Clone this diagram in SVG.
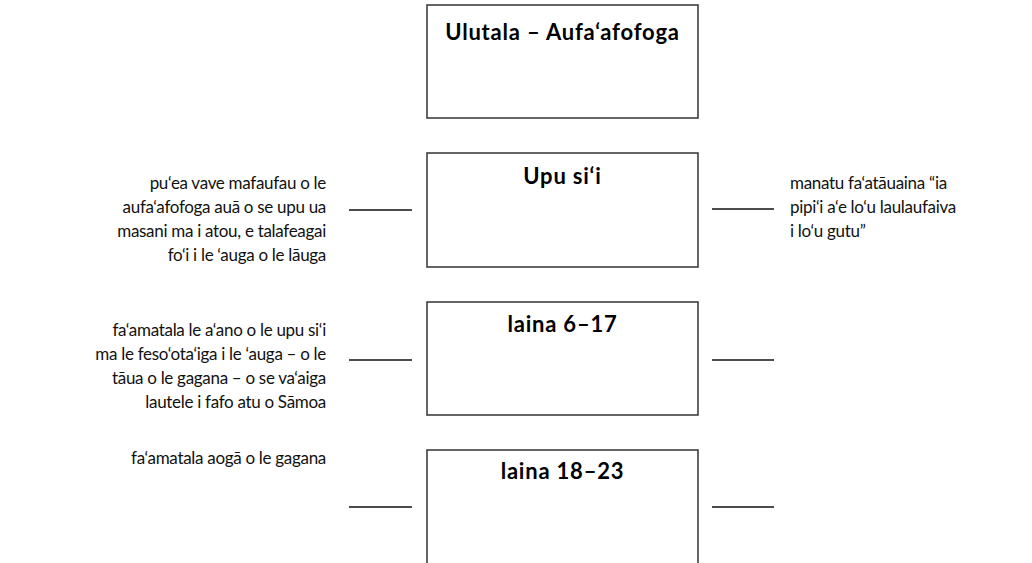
<svg xmlns="http://www.w3.org/2000/svg" width="1032" height="563" viewBox="0 0 1032 563">
<style>
.box{fill:#fff;stroke:#333;stroke-width:1.5}
.title{font-family:Lato,"Liberation Sans",sans-serif;font-weight:bold;font-size:22px;letter-spacing:0.8px;fill:#000;text-anchor:middle}
.note{font-family:Lato,"Liberation Sans",sans-serif;font-size:17px;letter-spacing:-0.3px;fill:#111}
.r{text-anchor:end}
.conn line{stroke:#111;stroke-width:1.3}
</style>
<rect width="1032" height="563" fill="#fff"/>
<g id="n-ulutala"><rect class="box" x="427" y="5" width="271" height="113"/><text class="title" x="562.5" y="40">Ulutala – Aufa‘afofoga</text></g>
<g id="n-upusii"><rect class="box" x="427" y="153" width="271" height="114"/><text class="title" x="562.5" y="184">Upu si‘i</text></g>
<g id="n-laina617"><rect class="box" x="427" y="302" width="271" height="113"/><text class="title" x="562.5" y="332">laina 6–17</text></g>
<g id="n-laina1823"><rect class="box" x="427" y="450" width="271" height="130"/><text class="title" x="562.5" y="479">laina 18–23</text></g>
<g id="note-l1" class="note r"><text x="326" y="189">pu‘ea vave mafaufau o le</text><text x="326" y="213">aufa‘afofoga auā o se upu ua</text><text x="326" y="237">masani ma i atou, e talafeagai</text><text x="326" y="261">fo‘i i le ‘auga o le lāuga</text></g>
<g id="note-r1" class="note"><text x="790" y="189">manatu fa‘atāuaina “ia</text><text x="790" y="213">pipi‘i a‘e lo‘u laulaufaiva</text><text x="790" y="237">i lo‘u gutu”</text></g>
<g id="note-l2" class="note r"><text x="326" y="336">fa‘amatala le a‘ano o le upu si‘i</text><text x="326" y="360">ma le feso‘ota‘iga i le ‘auga – o le</text><text x="326" y="384">tāua o le gagana – o se va‘aiga</text><text x="326" y="408">lautele i fafo atu o Sāmoa</text></g>
<g id="note-l3" class="note r"><text x="326" y="464">fa‘amatala aogā o le gagana</text></g>
<g id="connectors" class="conn">
<line x1="349" y1="210" x2="412" y2="210"/><line x1="712" y1="209" x2="774" y2="209"/>
<line x1="349" y1="360" x2="412" y2="360"/><line x1="712" y1="360" x2="774" y2="360"/>
<line x1="349" y1="507" x2="412" y2="507"/><line x1="712" y1="507" x2="774" y2="507"/>
</g>
</svg>
